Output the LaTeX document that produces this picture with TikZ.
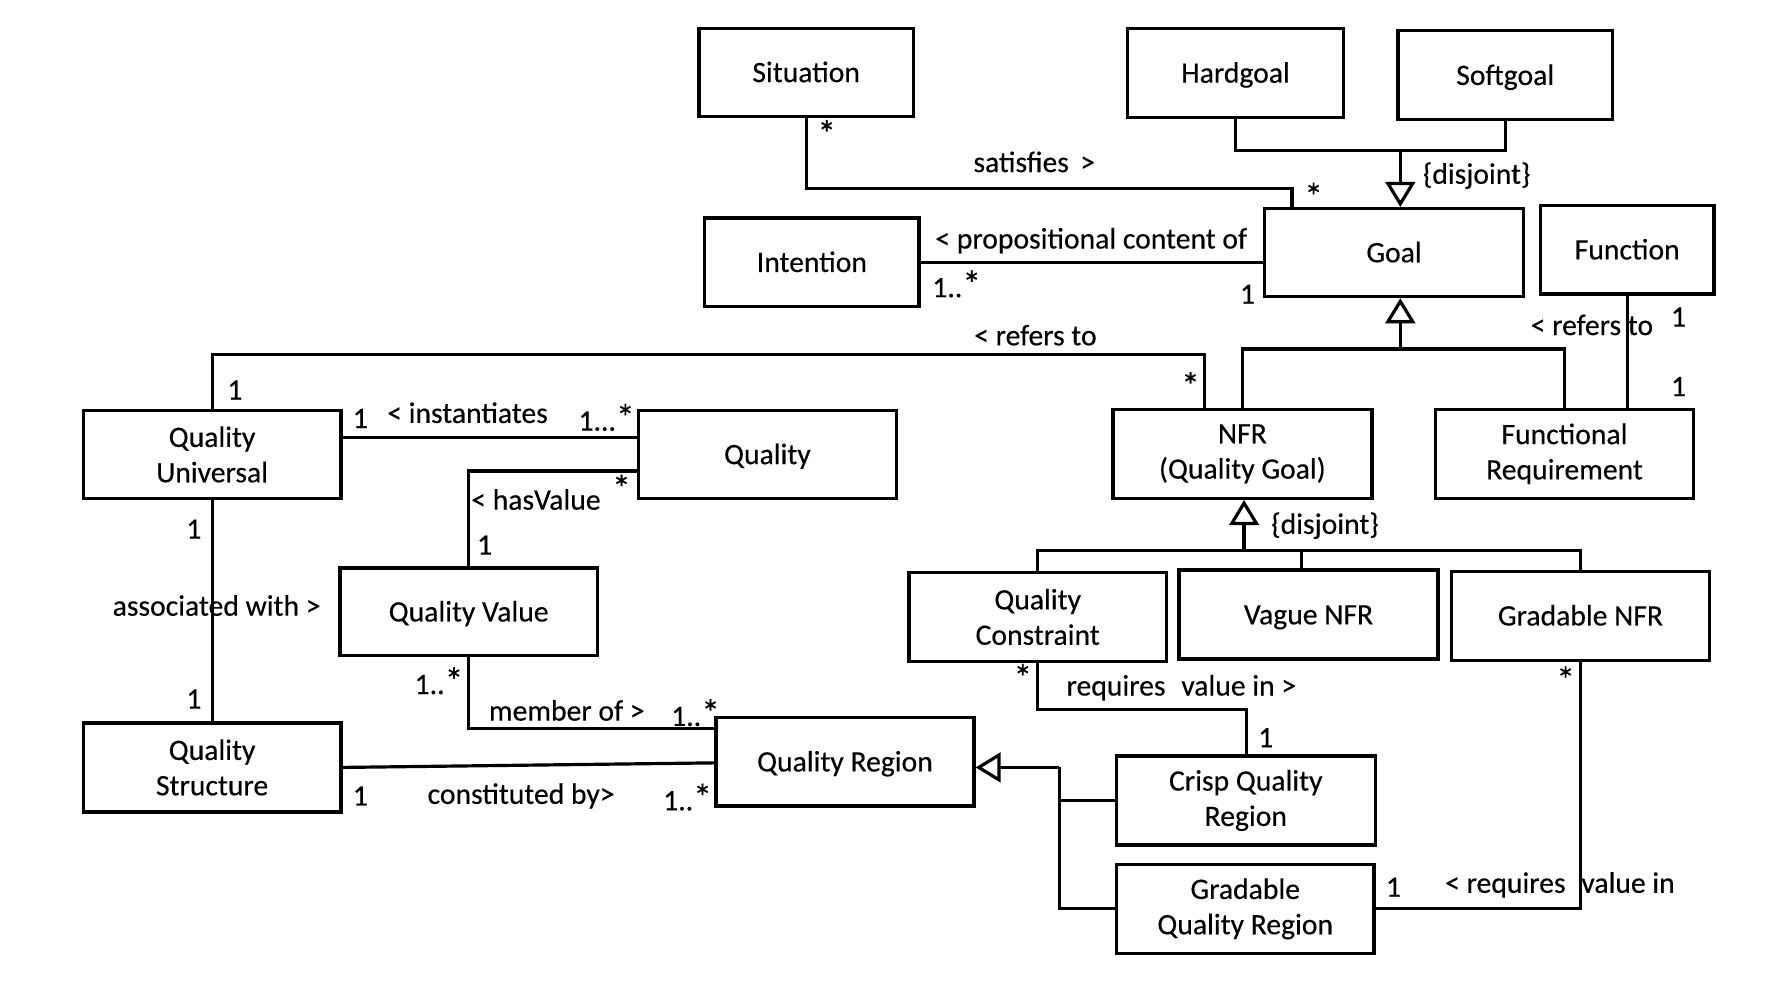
\documentclass[tikz,border=0pt]{standalone}
\usepackage{fontspec}
\setmainfont{Carlito}[FakeBold=0.3]
\usetikzlibrary{arrows.meta}
\newcommand\bigstar{{\fontsize{33}{33}\selectfont *}}
\begin{document}
\begin{tikzpicture}[x=1pt,y=-1pt,
  font=\fontsize{26}{31}\selectfont,
  cls/.style 2 args={draw, line width=3pt, inner sep=0pt, minimum width=#1pt, minimum height=#2pt, align=center},
  one/.style={text height=20pt, text depth=3pt},
  conn/.style={line width=2.8pt},
  gen/.style={line width=2.8pt, -{Triangle[open, length=22pt, width=26pt]}},
  lbl/.style={inner sep=0pt}]
\useasboundingbox (0,0) rectangle (1568,861);
% classes
\node[cls={188}{77}, one] (Sit) at (707,63.5) {Situation};
\node[cls={189}{78}, one] (Hard) at (1083.5,64) {Hardgoal};
\node[cls={188}{78}, one] (Soft) at (1320,66) {Softgoal};
\node[cls={188}{78}, one] (Int) at (712,230) {Intention};
\node[cls={227}{77}, one] (Goal) at (1222.5,221.5) {Goal};
\node[cls={152}{78}, one] (Fun) at (1427,219) {Function};
\node[cls={226}{77}] (QU) at (186,398.5) {Quality\\Universal};
\node[cls={226}{77}, one] (Q) at (673,398.5) {Quality};
\node[cls={227}{78}] (NFR) at (1089.5,398) {NFR\\(Quality Goal)};
\node[cls={226}{78}] (FR) at (1372,398) {Functional\\Requirement};
\node[cls={226}{77}, one] (QV) at (411,536.5) {Quality Value};
\node[cls={226}{78}] (QC) at (910,541) {Quality\\Constraint};
\node[cls={227}{78}, one] (VNFR) at (1147.5,539) {Vague NFR};
\node[cls={226}{78}, one] (GNFR) at (1386,540) {Gradable NFR};
\node[cls={226}{78}] (QS) at (186,673) {Quality\\Structure};
\node[cls={226}{78}, one] (QR) at (741,668) {Quality Region};
\node[cls={227}{78}] (CQR) at (1092.5,702) {Crisp Quality\\Region};
\node[cls={226}{78}] (GQR) at (1092,797) {Gradable\\Quality Region};
% junction points
\coordinate (j1) at (1133,165);
\coordinate (hs) at (1228,132);
\coordinate (g2) at (1228,306);
\coordinate (rf) at (1056,311);
\coordinate (n2) at (1091,483);
\coordinate (r1) at (1093,622);
\coordinate (q1) at (929,673);
% connectors
\draw[conn] (Sit.south) |- (j1) -- (j1 |- Goal.north);
\draw[conn] (Int.east) -- (Int.east -| Goal.west);
\draw[conn] (Hard.south) |- (hs) -| (Soft.south);
\draw[gen] (hs) -- (hs |- Goal.north);
\draw[conn] (NFR.north) |- (g2) -| (FR.north);
\draw[gen] (g2) -- (g2 |- Goal.south);
\draw[conn] (Fun.south) -- (Fun.south |- FR.north);
\draw[conn] (QU.north) |- (rf) -- (rf |- NFR.north);
\draw[conn] ([yshift=14.5pt]QU.east) -- ([yshift=14.5pt]Q.west);
\draw[conn] ([yshift=-14.5pt]Q.west) -| (QV.north);
\draw[conn] (QU.south) -- (QS.north);
\draw[conn] (QV.south) |- ([yshift=29pt]QR.west);
\draw[conn] (QS.east) -- ([yshift=-1pt]QR.west);
\draw[conn] (QC.north) |- (n2) -| (GNFR.north);
\draw[conn] ([xshift=-6.5pt]VNFR.north) -- ([xshift=-6.5pt]VNFR.north |- n2);
\draw[gen] (n2) -- (n2 |- NFR.south);
\draw[conn] (QC.south) |- (r1) -- (r1 |- CQR.north);
\draw[conn] (GNFR.south) |- (GQR.east);
\draw[gen] (q1) -- ([yshift=-5pt]QR.east);
\draw[conn] (q1) |- (GQR.west);
\draw[conn] (CQR.west) -- (CQR.west -| q1);
% labels
\node[lbl] (l1) at (725,117) {\bigstar};
\node[lbl] (l2) at (907,142) {satisfies\hspace{10pt}>};
\node[lbl] (l3) at (1152,172) {\bigstar};
\node[lbl] (l4) at (1295,154) {\{disjoint\}};
\node[lbl] (l5) at (957,211) {< propositional content of};
\node[lbl] (l6) at (839,249) {1..\bigstar};
\node[lbl] (l7) at (1094,258) {1};
\node[lbl] (l8) at (908,294) {< refers to};
\node[lbl] (l9) at (1396,285) {< refers to};
\node[lbl] (l10) at (1472,278) {1};
\node[lbl] (l11) at (1472,339) {1};
\node[lbl] (l12) at (206,342) {1};
\node[lbl] (l13) at (1044,338) {\bigstar};
\node[lbl] (l14) at (316,367) {1};
\node[lbl] (l15) at (410,362) {< instantiates};
\node[lbl] (l16) at (532,366) {1...\bigstar};
\node[lbl] (l17) at (470,438) {< hasValue};
\node[lbl] (l18) at (545,428) {\bigstar};
\node[lbl] (l19) at (425,478) {1};
\node[lbl] (l20) at (170,464) {1};
\node[lbl] (l21) at (190,531) {associated with >};
\node[lbl] (l22) at (170,613) {1};
\node[lbl] (l23) at (1162,461) {\{disjoint\}};
\node[lbl] (l24) at (897,594) {\bigstar};
\node[lbl] (l25) at (1036,603) {requires\hspace{8pt} value in >};
\node[lbl] (l26) at (1110,647) {1};
\node[lbl] (l27) at (1373,596) {\bigstar};
\node[lbl] (l28) at (385,597) {1..\bigstar};
\node[lbl] (l29) at (497,623) {member of >};
\node[lbl] (l30) at (610,625) {1..\bigstar};
\node[lbl] (l31) at (316,698) {1};
\node[lbl] (l32) at (457,698) {constituted by>};
\node[lbl] (l33) at (603,699) {1..\bigstar};
\node[lbl] (l34) at (1222,778) {1};
\node[lbl] (l35) at (1368,776) {< requires\hspace{8pt} value in};
\end{tikzpicture}
\end{document}
